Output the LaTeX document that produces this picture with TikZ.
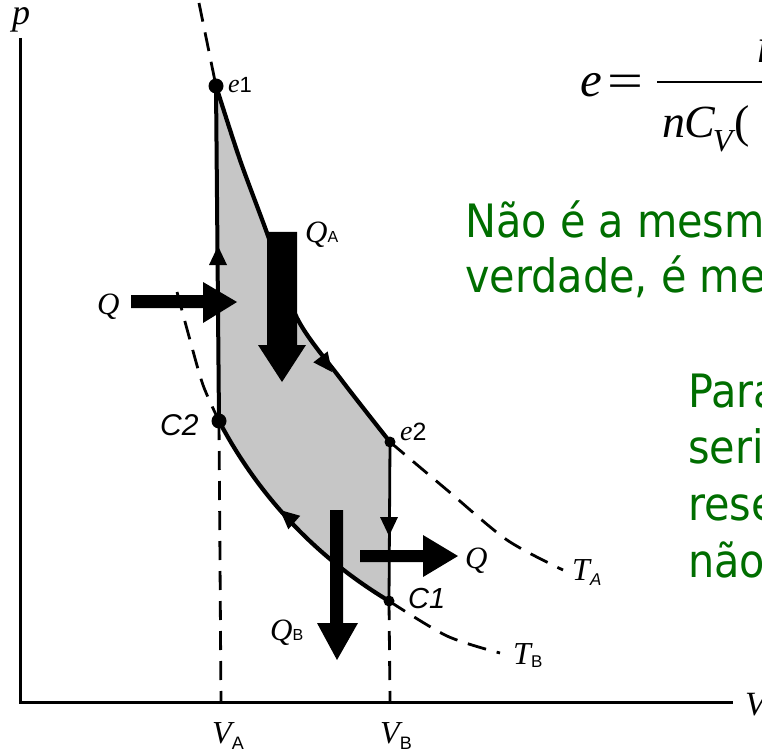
\documentclass[tikz,border=0pt]{standalone}
\usepackage{fontspec}
\setmainfont{Liberation Serif}
\newfontfamily\lsans{Liberation Sans}
\newfontfamily\slidefont[FakeStretch=0.9]{DejaVu Sans}
\definecolor{slidegreen}{RGB}{0,110,0}
\newcommand\fsz[1]{\fontsize{#1}{#1}\selectfont}
\newcommand\smarrow[3]{\fill[shift={(#1,#2)}, rotate=#3] (0,0) -- (-19,-9) -- (-19,9) -- cycle;}
\begin{document}
\begin{tikzpicture}[x=1pt,y=-1pt,
  lbl/.style={inner sep=0pt, anchor=base west},
  curve/.style={line width=4.2pt, line join=round},
  iso/.style={line width=2.8pt, dash pattern=on 19pt off 11pt},
  bigarrow/.style={fill=black},
  green/.style={lbl, text=slidegreen, font=\slidefont\fsz{46}}]
\fill[white] (0,0) rectangle (762,751);
\useasboundingbox (0,0) rectangle (762,751);
\clip (0,0) rectangle (762,751);

% state points
\coordinate (e1) at (216,86);
\coordinate (e2) at (390,442);
\coordinate (C1) at (389,601);
\coordinate (C2) at (219,421);

% shaded cycle
\fill[gray!45] plot[smooth,tension=0.5] coordinates {(216,86)(240,160)(267,233)(297,318)(340,378)(390,442)}
  -- (C1) .. controls (316.4,557.4) and (258.6,496.2) .. (C2) -- cycle;

% axes
\draw[line width=3pt] (20,38) -- (20,702) -- (733,702);

% isotherms (dashed parts)
\draw[iso] (199,3) -- (e1);
\draw[iso] plot[smooth] coordinates {(390,442)(447,490)(507,540)(563,570)};
\draw[iso] plot[smooth] coordinates {(177,292)(190,340)(203,385)(219,421)};
\draw[iso] plot[smooth] coordinates {(389,601)(447,636)(500,653)};
\draw[iso] (C2) -- (221,702);
\draw[iso] (C1) -- (390,702);

% cycle edges
\draw[curve] plot[smooth,tension=0.5] coordinates {(216,86)(240,160)(267,233)(297,318)(340,378)(390,442)};
\draw[curve] (C2) .. controls (258.6,496.2) and (316.4,557.4) .. (C1);
\draw[line width=4pt] (e1) -- (C2);
\draw[line width=2.8pt] (e2) -- (C1);

% dots
\fill (e1) circle (7.5);
\fill (C2) circle (7.5);
\fill (e2) circle (5.5);
\fill (C1) circle (5.5);

% small direction arrows
\smarrow{218}{246}{90}
\smarrow{332}{372}{-52.7}
\smarrow{389}{536}{-90}
\smarrow{280}{510}{138.7}

% big heat arrows
\fill[bigarrow] (267,232) -- (297,232) -- (297,345) -- (306,345) -- (282,382) -- (258,345) -- (267,345) -- cycle;
\fill[bigarrow] (131,295) -- (203,295) -- (203,282) -- (237,302) -- (203,323) -- (203,308) -- (131,308) -- cycle;
\fill[bigarrow] (360,550) -- (423,550) -- (423,535) -- (458,556) -- (423,577) -- (423,562) -- (360,562) -- cycle;
\fill[bigarrow] (330,510) -- (343,510) -- (343,623) -- (358,623) -- (337,660) -- (317,623) -- (330,623) -- cycle;

% labels
\node[lbl] (lp) at (12,25) {\fsz{36}\itshape p};
\node[lbl] (lV) at (745,715) {\fsz{34}\itshape V};
\node[lbl] (le1) at (228,93) {\fsz{26}\itshape e\upshape\lsans\fsz{22}1};
\node[lbl] (lQA) at (305,243) {\fsz{31}\itshape Q\lsans\upshape\fsz{16}A};
\node[lbl] (lQl) at (97,314) {\fsz{31}\itshape Q};
\node[lbl] (lC2) at (160,435) {\lsans\itshape\fsz{30}C2};
\node[lbl] (le2) at (400,440) {\fsz{28}\itshape e\upshape\lsans\fsz{25}2};
\node[lbl] (lQr) at (465,568) {\fsz{31}\itshape Q};
\node[lbl] (lTA) at (572,580) {\fsz{32}\itshape T\raisebox{-5pt}{\lsans\fsz{17}A}};
\node[lbl] (lC1) at (408,608) {\lsans\itshape\fsz{29}C1};
\node[lbl] (lTB) at (513,664) {\fsz{32}\itshape T\raisebox{-3pt}{\lsans\upshape\fsz{17}B}};
\node[lbl] (lQB) at (270,640) {\fsz{31}\itshape Q\lsans\upshape\fsz{16}B};
\node[lbl] (lVA) at (212,743) {\fsz{32}\itshape V\raisebox{-6pt}{\lsans\upshape\fsz{18}A}};
\node[lbl] (lVB) at (380,743) {\fsz{32}\itshape V\raisebox{-6pt}{\lsans\upshape\fsz{18}B}};

% equation (cropped)
\node[lbl] (eqe) at (580,97) {\fsz{49}\itshape e};
\node[lbl] (eqeq) at (607,98) {\fsz{49}\scalebox{1.3}[1]{=}};
\draw[line width=2.2pt] (657,82) -- (770,82);
\node[lbl] (eqnum) at (757,63) {\fsz{49}\itshape n};
\node[lbl] (eqden) at (662,138) {\fsz{46}\itshape n\kern-1pt C\kern-2pt\raisebox{-14pt}{\fsz{32}V}\upshape\kern2pt(};

% green text (cropped)
\node[green] (g1) at (465,237) {Não é a mesma};
\node[green] (g2) at (465,292) {verdade, é menor};
\node[green] (g3) at (688,407) {Para};
\node[green] (g4) at (688,463) {seri};
\node[green] (g5) at (688,520) {rese};
\node[green] (g6) at (688,577) {não};
\end{tikzpicture}
\end{document}
